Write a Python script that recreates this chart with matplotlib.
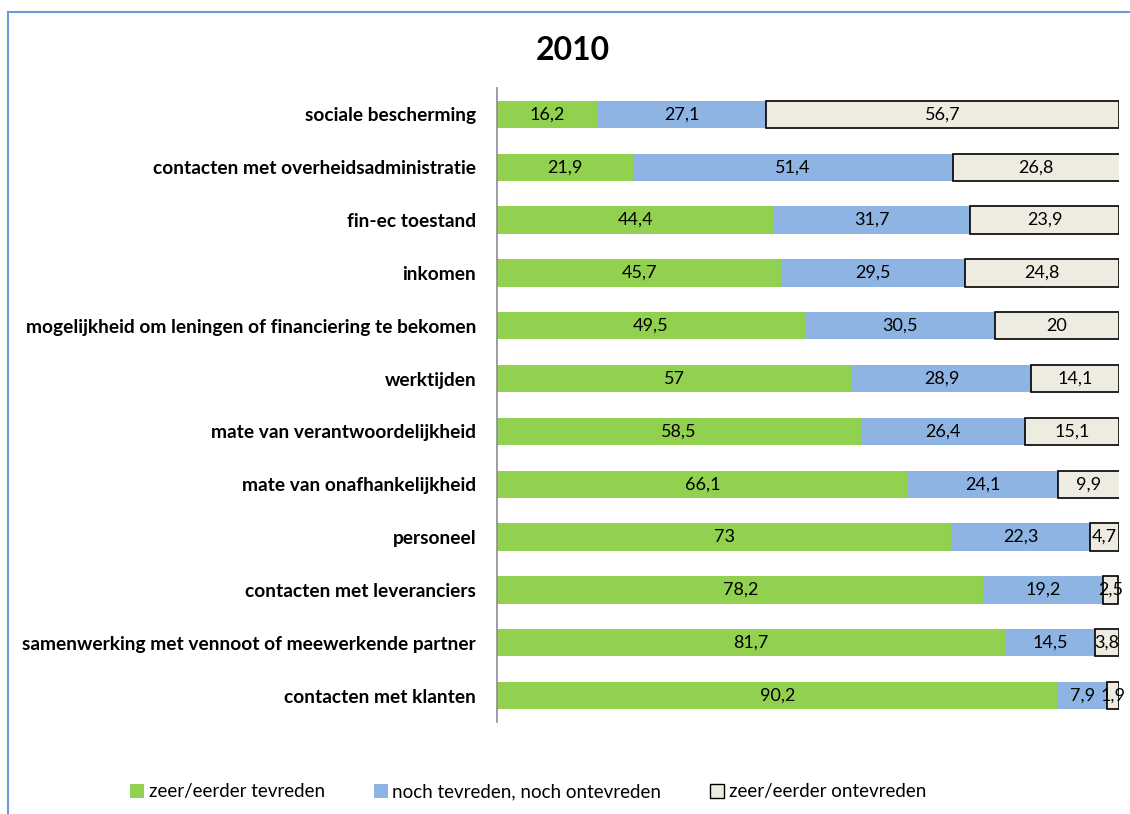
import matplotlib.pyplot as plt
from matplotlib.patches import Patch
from matplotlib.lines import Line2D

plt.rcParams['font.family'] = ['Lato', 'DejaVu Sans']

categories = [
    'sociale bescherming',
    'contacten met overheidsadministratie',
    'fin-ec toestand',
    'inkomen',
    'mogelijkheid om leningen of financiering te bekomen',
    'werktijden',
    'mate van verantwoordelijkheid',
    'mate van onafhankelijkheid',
    'personeel',
    'contacten met leveranciers',
    'samenwerking met vennoot of meewerkende partner',
    'contacten met klanten',
]
tevreden = [16.2, 21.9, 44.4, 45.7, 49.5, 57, 58.5, 66.1, 73, 78.2, 81.7, 90.2]
neutraal = [27.1, 51.4, 31.7, 29.5, 30.5, 28.9, 26.4, 24.1, 22.3, 19.2, 14.5, 7.9]
ontevreden = [56.7, 26.8, 23.9, 24.8, 20, 14.1, 15.1, 9.9, 4.7, 2.5, 3.8, 1.9]
series_names = ['zeer/eerder tevreden', 'noch tevreden, noch ontevreden',
                'zeer/eerder ontevreden']

green = '#92D050'
blue = '#8DB4E2'
beige = '#EEECE1'


def fmt(v):
    return f'{v:g}'.replace('.', ',')


fig = plt.figure(figsize=(11.3, 8.14), dpi=100)
ax = fig.add_axes([497 / 1130, 1 - 722 / 814, 622 / 1130, 634 / 814])

y = list(range(len(categories)))
h = 0.52
left2 = [a + b for a, b in zip(tevreden, neutraal)]

ax.barh(y, tevreden, height=h, color=green, linewidth=0)
ax.barh(y, neutraal, left=tevreden, height=h, color=blue, linewidth=0)
ax.barh(y, ontevreden, left=left2, height=h, color=beige,
        edgecolor='black', linewidth=1.2)

for i in y:
    ax.text(tevreden[i] / 2, i, fmt(tevreden[i]), ha='center', va='center',
            fontsize=13, color='black')
    ax.text(tevreden[i] + neutraal[i] / 2, i, fmt(neutraal[i]), ha='center',
            va='center', fontsize=13, color='black')
    ax.text(left2[i] + ontevreden[i] / 2, i, fmt(ontevreden[i]), ha='center',
            va='center', fontsize=13, color='black', clip_on=False)

ax.set_xlim(0, 100)
ax.set_ylim(len(categories) - 0.5, -0.5)
ax.set_yticks(y)
ax.set_yticklabels(categories, fontweight='bold', fontsize=13.8)
ax.tick_params(axis='y', length=0, pad=15)
ax.set_xticks([])
for s in ['top', 'right', 'bottom']:
    ax.spines[s].set_visible(False)
ax.spines['left'].set_color('#8C8C8C')
ax.spines['left'].set_linewidth(1.2)

fig.text(573 / 1130, 1 - 50 / 814, '2010', ha='center', va='center',
         fontsize=23, fontweight='bold')

handles = [Patch(facecolor=green, edgecolor='none'),
           Patch(facecolor=blue, edgecolor='none'),
           Patch(facecolor=beige, edgecolor='black', linewidth=1)]
fig.legend(handles, series_names, loc='center', ncol=3,
           bbox_to_anchor=(528 / 1130, 1 - 792 / 814), frameon=False,
           fontsize=13.5, handlelength=0.75, handleheight=0.75,
           handletextpad=0.25, columnspacing=2.6)

# chart border (only top and left edges are visible in the crop)
border = '#6A9BD8'
fig.add_artist(Line2D([8 / 1130, 8 / 1130], [0, 1 - 12 / 814],
                      color=border, linewidth=1.5))
fig.add_artist(Line2D([8 / 1130, 1], [1 - 12 / 814, 1 - 12 / 814],
                      color=border, linewidth=1.5))

fig.savefig('out.png', dpi=100)
